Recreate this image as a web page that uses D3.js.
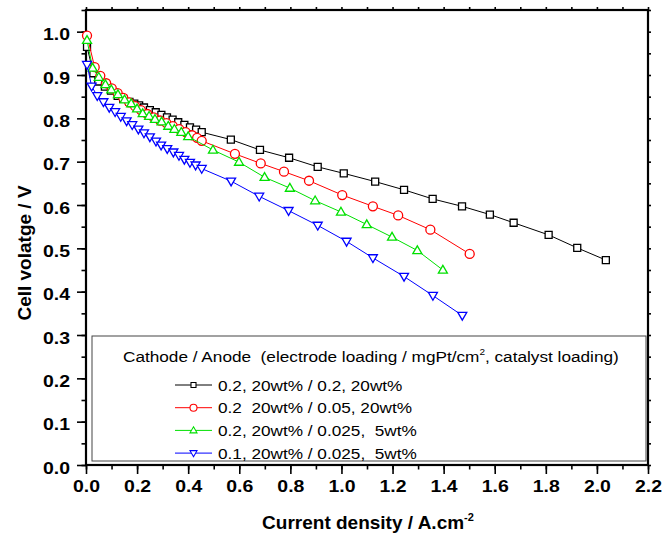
<!DOCTYPE html>
<html>
<head>
<meta charset="utf-8">
<script src="https://cdn.jsdelivr.net/npm/d3@7"></script>
<style>
    body { margin: 0; background: #fff; }
    svg { display: block; }
</style>
</head>
<body>
<div id="chart"></div>
<script>
// current density (A/cm2) and cell voltage (V)
var blackX = [0.004, 0.029, 0.048, 0.074, 0.098, 0.124, 0.146, 0.170, 0.189, 0.208, 0.227, 0.250, 0.273, 0.295, 0.317, 0.339, 0.361, 0.385, 0.407, 0.431, 0.453,
              0.567, 0.681, 0.795, 0.907, 1.009, 1.132, 1.245, 1.357, 1.472, 1.581, 1.674, 1.811, 1.923, 2.035];
var blackY = [0.965, 0.904, 0.885, 0.873, 0.864, 0.852, 0.845, 0.838, 0.834, 0.830, 0.825, 0.819, 0.814, 0.808, 0.802, 0.797, 0.791, 0.785, 0.779, 0.774, 0.768,
              0.751, 0.727, 0.709, 0.688, 0.673, 0.654, 0.635, 0.614, 0.597, 0.578, 0.559, 0.531, 0.501, 0.473];

var redX = [0.004, 0.034, 0.056, 0.079, 0.101, 0.124, 0.146, 0.169, 0.192, 0.215, 0.240, 0.265, 0.290, 0.315, 0.340, 0.365, 0.390, 0.415, 0.435, 0.453,
            0.583, 0.684, 0.775, 0.873, 1.003, 1.123, 1.222, 1.348, 1.502];
var redY = [0.991, 0.918, 0.898, 0.881, 0.869, 0.858, 0.847, 0.837, 0.828, 0.819, 0.810, 0.802, 0.795, 0.789, 0.782, 0.775, 0.768, 0.761, 0.755, 0.748,
            0.718, 0.696, 0.677, 0.656, 0.623, 0.597, 0.576, 0.543, 0.487];

var greenX = [0.004, 0.026, 0.050, 0.076, 0.099, 0.125, 0.151, 0.177, 0.200, 0.222, 0.247, 0.270, 0.296, 0.322, 0.346, 0.373, 0.400,
              0.497, 0.599, 0.699, 0.798, 0.897, 0.998, 1.099, 1.198, 1.297, 1.397];
var greenY = [0.980, 0.916, 0.895, 0.878, 0.866, 0.855, 0.843, 0.834, 0.822, 0.811, 0.805, 0.798, 0.792, 0.782, 0.775, 0.768, 0.758,
              0.727, 0.699, 0.664, 0.639, 0.610, 0.584, 0.555, 0.526, 0.495, 0.450];

var blueX = [0.004, 0.022, 0.044, 0.068, 0.091, 0.114, 0.136, 0.159, 0.181, 0.205, 0.227, 0.250, 0.274, 0.294, 0.318, 0.342, 0.364, 0.385, 0.407, 0.429, 0.453,
             0.568, 0.678, 0.793, 0.907, 1.020, 1.123, 1.245, 1.358, 1.473];
var blueY = [0.924, 0.874, 0.852, 0.838, 0.825, 0.815, 0.804, 0.794, 0.785, 0.775, 0.766, 0.757, 0.747, 0.738, 0.730, 0.722, 0.714, 0.705, 0.698, 0.692, 0.684,
             0.655, 0.620, 0.587, 0.553, 0.516, 0.478, 0.435, 0.391, 0.345];

var seriesNames = ["0.2, 20wt% / 0.2, 20wt%", "0.2  20wt% / 0.05, 20wt%", "0.2, 20wt% / 0.025,  5wt%", "0.1, 20wt% / 0.025,  5wt%"];
var seriesColors = ["#000000", "#ff0000", "#00e000", "#0000ff"];
var seriesShapes = ["square", "circle", "up", "down"];

var xTicks = [0, 0.2, 0.4, 0.6, 0.8, 1.0, 1.2, 1.4, 1.6, 1.8, 2.0, 2.2];
var yTicks = [0, 0.1, 0.2, 0.3, 0.4, 0.5, 0.6, 0.7, 0.8, 0.9, 1.0];

draw();

function draw()
{
    var width = 667, height = 537;
    var mLeft = 86, mRight = 648, mTop = 10, mBottom = 465;
    var stretch = 1.18;   // the tick labels are drawn wide in the original

    var svg = d3.select("#chart").append("svg")
            .attr("width", width)
            .attr("height", height)
            .style("font-family", "Arial, 'Liberation Sans', Helvetica, sans-serif");

    var x = d3.scaleLinear().domain([0, 2.2]).range([mLeft, mRight]);
    var y = d3.scaleLinear().domain([0, 1.05]).range([mBottom, mTop]);

    var xMinor = d3.range(0, 2.25, 0.1);
    var yMinor = d3.range(0, 1.06, 0.05);

    // minor ticks, all four sides
    svg.append("g").attr("transform", "translate(0," + mBottom + ")")
            .call(d3.axisBottom(x).tickValues(xMinor).tickSize(4.5).tickFormat(""));
    svg.append("g").attr("transform", "translate(" + mLeft + ",0)")
            .call(d3.axisLeft(y).tickValues(yMinor).tickSize(4.5).tickFormat(""));
    svg.append("g").attr("transform", "translate(" + mRight + ",0)")
            .call(d3.axisRight(y).tickValues(yMinor).tickSize(3).tickFormat(""));
    svg.append("g").attr("transform", "translate(0," + mTop + ")")
            .call(d3.axisTop(x).tickValues(xMinor).tickSize(3).tickFormat(""));

    // major ticks with labels
    var xAxis = svg.append("g").attr("transform", "translate(0," + mBottom + ")")
            .call(d3.axisBottom(x).tickValues(xTicks).tickSize(9).tickPadding(6).tickFormat(d3.format(".1f")));
    var yAxis = svg.append("g").attr("transform", "translate(" + mLeft + ",0)")
            .call(d3.axisLeft(y).tickValues(yTicks).tickSize(9).tickPadding(9).tickFormat(d3.format(".1f")));

    svg.selectAll(".domain").remove();
    svg.selectAll(".tick line").attr("stroke", "#000").attr("stroke-width", 1.6);

    xAxis.selectAll("text")
            .attr("font-size", 16.5)
            .attr("font-weight", "bold")
            .attr("fill", "#000")
            .attr("transform", "scale(" + stretch + ",1)");
    yAxis.selectAll("text")
            .attr("font-size", 16.5)
            .attr("font-weight", "bold")
            .attr("fill", "#000")
            .attr("transform", "translate(0,3) scale(" + stretch + ",1)")
            .attr("x", -16 / stretch);

    // frame
    svg.append("rect")
            .attr("x", mLeft).attr("y", mTop)
            .attr("width", mRight - mLeft).attr("height", mBottom - mTop)
            .attr("fill", "none")
            .attr("stroke", "#000")
            .attr("stroke-width", 2.2);

    var allX = [blackX, redX, greenX, blueX];
    var allY = [blackY, redY, greenY, blueY];

    var line = d3.line()
            .x(function (d) { return x(d[0]); })
            .y(function (d) { return y(d[1]); });

    allX.forEach(function (xs, i) {
        var pts = xs.map(function (v, j) { return [v, allY[i][j]]; });
        var g = svg.append("g");
        g.append("path")
                .datum(pts)
                .attr("d", line)
                .attr("fill", "none")
                .attr("stroke", seriesColors[i])
                .attr("stroke-width", 1);
        g.selectAll(".pt")
                .data(pts)
                .enter()
                .append("path")
                .attr("transform", function (d) {
                    return "translate(" + x(d[0]) + "," + y(d[1]) + ")";
                })
                .attr("d", markerPath(seriesShapes[i], seriesShapes[i] == "square" ? 7 : 9))
                .attr("fill", "#fff")
                .attr("stroke", seriesColors[i])
                .attr("stroke-width", 1.3);
    });

    // legend
    var legend = svg.append("g");
    legend.append("rect")
            .attr("x", 92).attr("y", 336)
            .attr("width", 554).attr("height", 125)
            .attr("fill", "#fff")
            .attr("stroke", "#444")
            .attr("stroke-width", 1);

    var legStretch = 1.11;
    var head = legend.append("text")
            .attr("transform", "translate(123,362) scale(" + legStretch + ",1)")
            .attr("font-size", 15.5)
            .attr("fill", "#000")
            .attr("xml:space", "preserve");
    head.append("tspan").text("Cathode / Anode  (electrode loading / mgPt/cm");
    head.append("tspan").text("2").attr("font-size", 9).attr("dy", -7);
    head.append("tspan").text(", catalyst loading)").attr("dy", 7);

    seriesNames.forEach(function (name, i) {
        var cy = 385 + i * 22.7;
        legend.append("line")
                .attr("x1", 175).attr("x2", 212)
                .attr("y1", cy).attr("y2", cy)
                .attr("stroke", seriesColors[i])
                .attr("stroke-width", 1);
        legend.append("path")
                .attr("transform", "translate(193.5," + cy + ")")
                .attr("d", markerPath(seriesShapes[i], seriesShapes[i] == "square" ? 5 : 7))
                .attr("fill", "#fff")
                .attr("stroke", seriesColors[i])
                .attr("stroke-width", 1.1);
        legend.append("text")
                .attr("transform", "translate(218," + (cy + 5.5) + ") scale(" + legStretch + ",1)")
                .attr("font-size", 15.5)
                .attr("fill", "#000")
                .attr("xml:space", "preserve")
                .text(name);
    });

    // axis titles
    svg.append("text")
            .attr("transform", "translate(31,253) rotate(-90)")
            .attr("text-anchor", "middle")
            .attr("font-size", 19)
            .attr("font-weight", "bold")
            .text("Cell volatge / V");

    var xt = svg.append("text")
            .attr("x", 368).attr("y", 529)
            .attr("text-anchor", "middle")
            .attr("font-size", 19)
            .attr("font-weight", "bold");
    xt.append("tspan").text("Current density / A.cm");
    xt.append("tspan").text("-2").attr("font-size", 11).attr("dy", -8);
}

function markerPath(shape, s)
{
    if (shape == "square")
        return d3.symbol().type(d3.symbolSquare).size(s * s)();
    if (shape == "circle")
        return d3.symbol().type(d3.symbolCircle).size(Math.PI * s * s / 4)();
    var h = s * 0.87, w = s / 2;
    if (shape == "up")
        return "M0," + (-h * 0.6) + "L" + w + "," + (h * 0.4) + "L" + (-w) + "," + (h * 0.4) + "Z";
    return "M0," + (h * 0.6) + "L" + w + "," + (-h * 0.4) + "L" + (-w) + "," + (-h * 0.4) + "Z";
}
</script>
</body>
</html>
